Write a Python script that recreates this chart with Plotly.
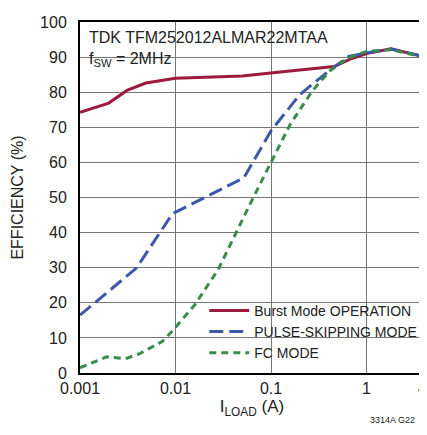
import plotly.graph_objects as go

burst_x = [0.001, 0.002, 0.0031, 0.0049, 0.01, 0.05, 0.14, 0.46, 0.7, 1.0, 1.8, 4.0]
burst_y = [74.3, 76.9, 80.5, 82.6, 84.0, 84.6, 85.9, 87.3, 89.6, 91.0, 92.4, 90.1]

pulse_x = [0.001, 0.0039, 0.0093, 0.052, 0.1, 0.15, 0.2, 0.4, 0.65, 1.0, 1.8, 4.0]
pulse_y = [16.5, 29.9, 45.4, 55.6, 69.0, 75.0, 79.3, 86.0, 90.2, 91.2, 92.3, 90.1]

fc_x = [0.001, 0.0019, 0.003, 0.0042, 0.0073, 0.0095, 0.016, 0.028, 0.065, 0.1, 0.16, 0.27, 0.41, 0.64, 1.0, 1.8, 4.0]
fc_y = [1.5, 4.6, 4.1, 5.5, 9.0, 12.3, 19.5, 29.5, 49.9, 59.8, 71.0, 80.3, 86.0, 89.7, 91.6, 92.1, 90.0]

x_ticks = [0.001, 0.01, 0.1, 1, 4]
x_tick_labels = ["0.001", "0.01", "0.1", "1", "4\u2009"]
y_ticks = list(range(0, 101, 10))

FONT = "Liberation Sans, Arial, sans-serif"
TXT = "#222"

fig = go.Figure()
fig.add_trace(go.Scatter(x=burst_x, y=burst_y, mode="lines", name="Burst Mode OPERATION",
                         line=dict(color="#9C1A3E", width=3)))
fig.add_trace(go.Scatter(x=pulse_x, y=pulse_y, mode="lines", name="PULSE-SKIPPING MODE",
                         line=dict(color="#3D58A8", width=3, dash="14px,6px")))
fig.add_trace(go.Scatter(x=fc_x, y=fc_y, mode="lines", name="FC MODE",
                         line=dict(color="#3A8C4C", width=3, dash="7px,5px")))

fig.update_layout(
    width=427, height=435,
    margin=dict(l=72, r=5, t=14, b=70),
    paper_bgcolor="white", plot_bgcolor="white",
    font=dict(family=FONT, size=16, color=TXT),
    showlegend=True,
    legend=dict(x=0.995, y=0.012, xanchor="right", yanchor="bottom", bgcolor="rgba(0,0,0,0)",
                font=dict(family=FONT, size=14, color=TXT),
                tracegroupgap=0, itemwidth=40, borderwidth=0),
    xaxis=dict(type="log", range=[-3, 0.60206], tickvals=x_ticks, ticktext=x_tick_labels,
               showgrid=True, gridcolor="#777", gridwidth=1, zeroline=False,
               showline=True, linecolor="black", linewidth=2, mirror=True, ticks="",
               title=dict(text="I<sub>LOAD</sub> (A)", font=dict(family=FONT, size=17, color=TXT), standoff=4),
               tickfont=dict(family=FONT, size=16, color=TXT)),
    yaxis=dict(range=[0, 100], tickvals=y_ticks, showgrid=True, gridcolor="#777", gridwidth=1,
               zeroline=False, showline=True, linecolor="black", linewidth=2, mirror=True, ticks="",
               ticklabelstandoff=8,
               title=dict(text="EFFICIENCY (%)", font=dict(family=FONT, size=16, color=TXT), standoff=12),
               tickfont=dict(family=FONT, size=16, color=TXT)),
    shapes=[
        dict(type="rect", xref="paper", yref="paper", x0=0.003, x1=0.838, y0=0.855, y1=0.997,
             fillcolor="white", line=dict(width=0), layer="between"),
        dict(type="rect", xref="paper", yref="paper", x0=0.334, x1=0.997, y0=0.003, y1=0.214,
             fillcolor="white", line=dict(width=0), layer="between"),
    ],
    annotations=[
        dict(text="TDK TFM252012ALMAR22MTAA", xref="paper", yref="paper", x=0.02, y=0.985,
             xanchor="left", yanchor="top", showarrow=False, font=dict(family=FONT, size=16, color=TXT)),
        dict(text="f<sub>SW</sub> = 2MHz", xref="paper", yref="paper", x=0.02, y=0.925,
             xanchor="left", yanchor="top", showarrow=False, font=dict(family=FONT, size=16, color=TXT)),
        dict(text="3314A G22", xref="paper", yref="paper", x=0.98, y=-0.115,
             xanchor="right", yanchor="top", showarrow=False, font=dict(family=FONT, size=9, color=TXT)),
    ],
)

fig.write_html("out.html")
